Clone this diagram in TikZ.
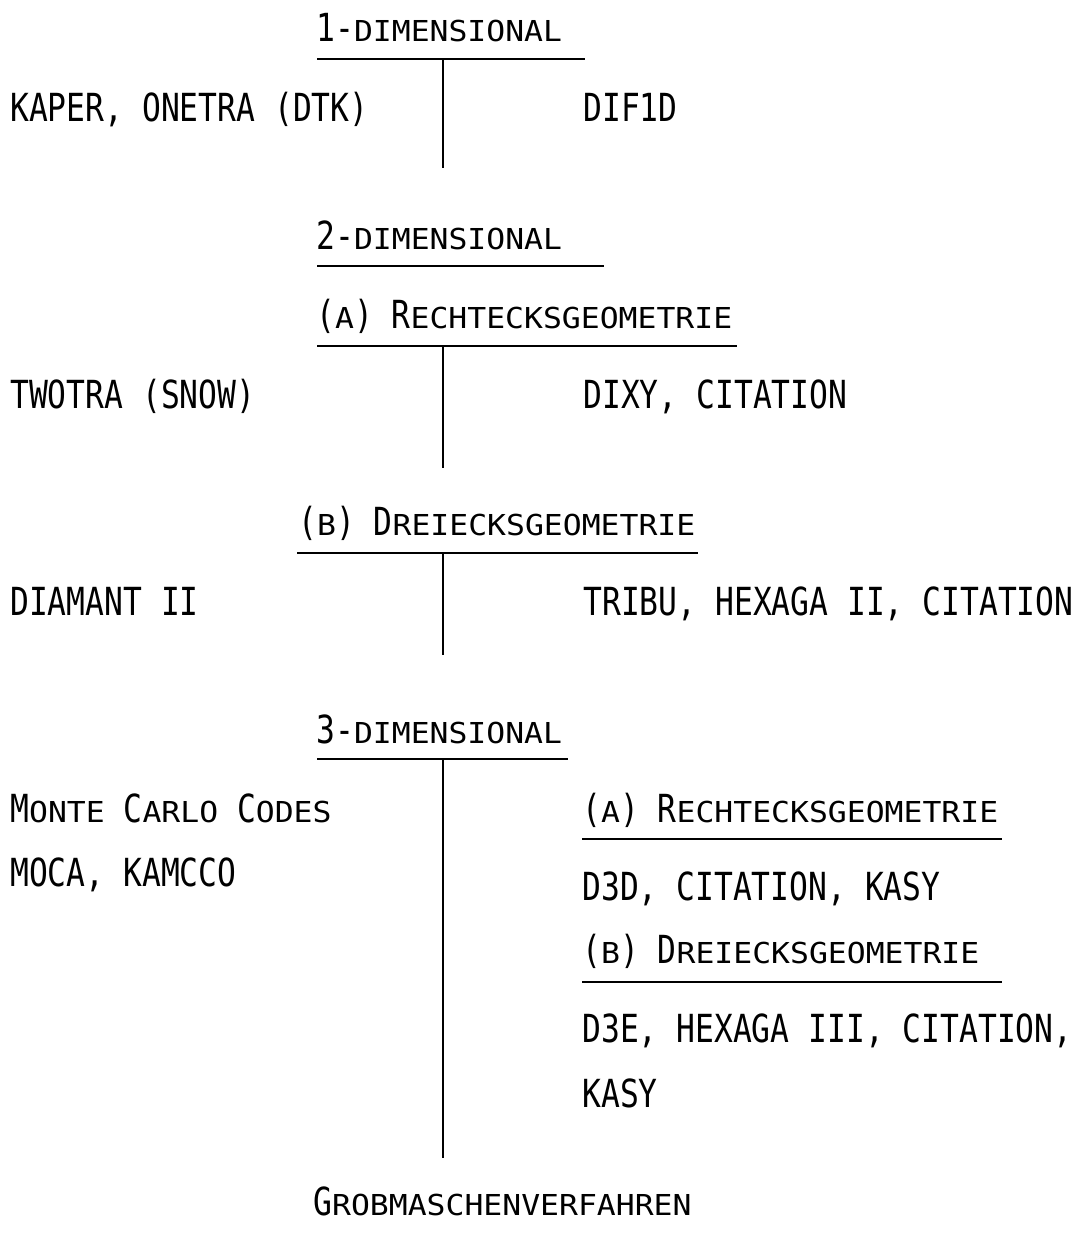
\documentclass[tikz,border=0pt]{standalone}
\usepackage{fontspec}
\newfontfamily\typew[FakeStretch=0.81]{DejaVu Sans Mono}
\newfontfamily\typewsc[FakeStretch=1.09]{DejaVu Sans Mono}
\newcommand{\lowcap}[1]{{\typewsc\fontsize{20.5}{24}\selectfont #1}}
\begin{document}
\begin{tikzpicture}[x=0.025cm, y=-0.025cm,
    T/.style={anchor=base west, inner sep=0pt, font=\typew\fontsize{27.5}{33}\selectfont},
    L/.style={line width=1.4pt}
  ]
  \useasboundingbox (0,0) rectangle (1082,1241);
  % 1-dimensional
  \node[T] (dimA) at (316,42) {1-\lowcap{DIMENSIONAL}};
  \node[T] (kaper) at (10,122) {KAPER, ONETRA (DTK)};
  \node[T] (difd) at (583,122) {DIF1D};
  \coordinate (uAl) at (317,59); \coordinate (uAr) at (585,59);
  \coordinate (vAt) at (443,59); \coordinate (vAb) at (443,168);
  \draw[L] (uAl) -- (uAr);
  \draw[L] (vAt) -- (vAb);
  % 2-dimensional
  \node[T] (dimB) at (316,249) {2-\lowcap{DIMENSIONAL}};
  \coordinate (uBl) at (317,266); \coordinate (uBr) at (604,266);
  \draw[L] (uBl) -- (uBr);
  \node[T] (rechA) at (316,328) {(\lowcap{A}) R\lowcap{ECHTECKSGEOMETRIE}};
  \coordinate (uCl) at (317,346); \coordinate (uCr) at (737,346);
  \coordinate (vCt) at (443,346); \coordinate (vCb) at (443,468);
  \draw[L] (uCl) -- (uCr);
  \draw[L] (vCt) -- (vCb);
  \node[T] (twotra) at (10,408) {TWOTRA (SNOW)};
  \node[T] (dixy) at (583,408) {DIXY, CITATION};
  \node[T] (dreiA) at (298,535) {(\lowcap{B}) D\lowcap{REIECKSGEOMETRIE}};
  \coordinate (uDl) at (297,553); \coordinate (uDr) at (698,553);
  \coordinate (vDt) at (443,553); \coordinate (vDb) at (443,655);
  \draw[L] (uDl) -- (uDr);
  \draw[L] (vDt) -- (vDb);
  \node[T] (diamant) at (10,615) {DIAMANT II};
  \node[T] (tribu) at (583,615) {TRIBU, HEXAGA II, CITATION};
  % 3-dimensional
  \node[T] (dimC) at (316,743) {3-\lowcap{DIMENSIONAL}};
  \coordinate (uEl) at (317,759); \coordinate (uEr) at (568,759);
  \coordinate (vEt) at (443,759); \coordinate (vEb) at (443,1158);
  \draw[L] (uEl) -- (uEr);
  \draw[L] (vEt) -- (vEb);
  \node[T] (monte) at (10,822) {M\lowcap{ONTE} C\lowcap{ARLO} C\lowcap{ODES}};
  \node[T] (moca) at (10,886) {MOCA, KAMCCO};
  \node[T] (rechB) at (582,822) {(\lowcap{A}) R\lowcap{ECHTECKSGEOMETRIE}};
  \coordinate (uFl) at (582,839); \coordinate (uFr) at (1002,839);
  \draw[L] (uFl) -- (uFr);
  \node[T] (dthreed) at (582,900) {D3D, CITATION, KASY};
  \node[T] (dreiB) at (582,963) {(\lowcap{B}) D\lowcap{REIECKSGEOMETRIE}};
  \coordinate (uGl) at (582,982); \coordinate (uGr) at (1002,982);
  \draw[L] (uGl) -- (uGr);
  \node[T] (dthreee) at (582,1042) {D3E, HEXAGA III, CITATION,};
  \node[T] (kasy) at (582,1107) {KASY};
  \node[T] (grob) at (313,1215) {G\lowcap{ROBMASCHENVERFAHREN}};
\end{tikzpicture}
\end{document}
